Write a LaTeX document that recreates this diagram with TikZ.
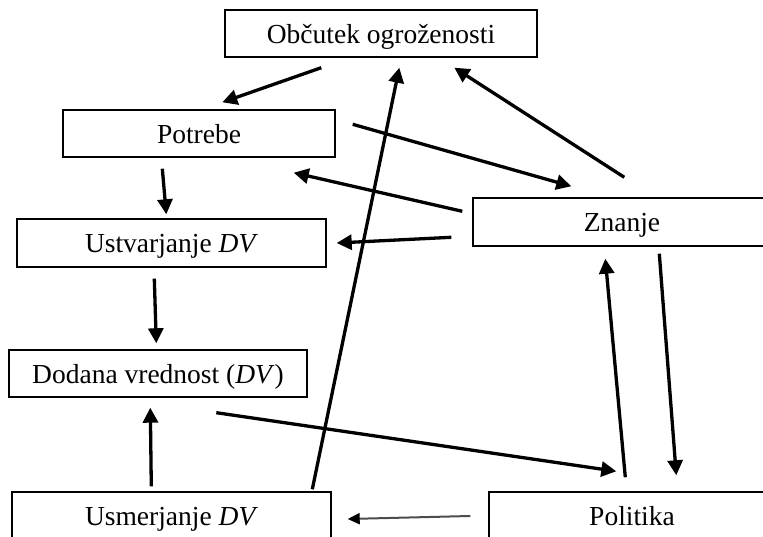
\documentclass[tikz,border=0pt]{standalone}
\usepackage{fontspec}
\setmainfont{Liberation Serif}
\usetikzlibrary{arrows.meta,calc}

\tikzset{
  box/.style={draw, line width=1.4pt, rectangle, inner sep=0pt,
    text height=20pt, text depth=0pt,
    font=\fontsize{27.5}{30}\selectfont},
  arr/.style={line width=3.3pt, -{Triangle[length=15pt,width=15pt]}},
  thinarr/.style={line width=2pt, draw=black!70,
    -{Triangle[length=12pt,width=11pt,color=black,fill=black]}},
}

\begin{document}
\begin{tikzpicture}[x=1pt,y=-1pt]
  \useasboundingbox (0,0) rectangle (763,537);
  \clip (0,0) rectangle (763,537);

  % boxes
  \node[box, minimum width=312pt, minimum height=47pt] (ob)  at (381,33.5)  {Občutek ogroženosti};
  \node[box, minimum width=272pt, minimum height=47pt] (pot) at (199,133.5) {Potrebe};
  \node[box, minimum width=309pt, minimum height=48pt] (ust) at (171.5,243) {Ustvarjanje \textit{DV}};
  \node[box, minimum width=298pt, minimum height=48pt] (zn)  at (622,222)   {Znanje};
  \node[box, minimum width=298pt, minimum height=47pt] (dod) at (158,373.5) {Dodana vrednost (\textit{DV})};
  \node[box, minimum width=319pt, minimum height=47pt] (usm) at (171.5,515.5) {Usmerjanje \textit{DV}};
  \node[box, minimum width=286pt, minimum height=47pt] (pol) at (632,515.5) {Politika};

  % connectors
  \draw[arr] ($(ob.south west)+(97,10)$)   -- ($(pot.north west)+(160,-7)$);
  \draw[arr] ($(pot.north east)+(17,15)$)  -- ($(zn.north west)+(99,-11)$);
  \draw[arr] ($(zn.north west)+(-10,14)$)  -- ($(pot.south east)+(-42,15)$);
  \draw[arr] ($(zn.north west)+(-21,40)$)  -- ($(ust.east)+(10,0)$);
  \draw[arr] ($(zn.north west)+(152,-20)$) -- ($(ob.south west)+(230,10)$);
  \draw[arr] ($(pot.south west)+(100,11)$) -- ($(ust.north west)+(150,-4)$);
  \draw[arr] ($(ust.south west)+(138,11)$) -- ($(dod.north west)+(148,-6)$);
  \draw[arr] ($(usm.north west)+(140,-5)$) -- ($(dod.south west)+(142,10)$);
  \draw[arr] ($(usm.north west)+(301,-2)$) -- ($(ob.south west)+(175,10)$);
  \draw[arr] ($(dod.south west)+(208,15)$) -- ($(pol.north west)+(128,-20)$);
  \draw[arr] ($(pol.north west)+(137,-14)$) -- ($(zn.south west)+(133,12)$);
  \draw[arr] ($(zn.south west)+(187,7)$)   -- ($(pol.north west)+(188,-16)$);
  \draw[thinarr] ($(pol.west)+(-18,0.5)$)  -- ($(usm.east)+(16,3.5)$);
\end{tikzpicture}
\end{document}
